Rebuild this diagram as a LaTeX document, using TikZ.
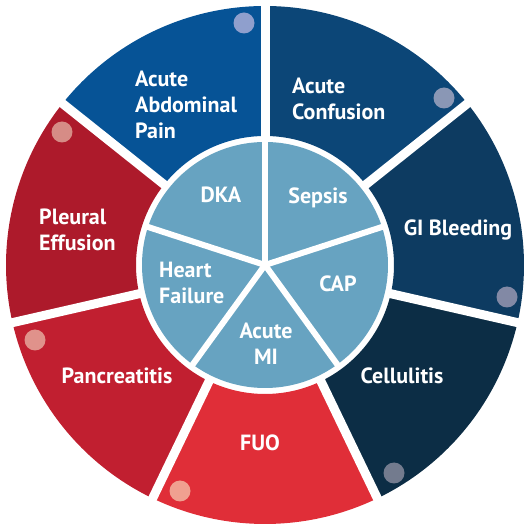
\documentclass[tikz,border=0pt]{standalone}
\usepackage{fontspec}
\setmainfont{PT Sans}
\definecolor{cAAP}{HTML}{065396}
\definecolor{cAC}{HTML}{0C4677}
\definecolor{cGI}{HTML}{0D3B61}
\definecolor{cCell}{HTML}{0C2D45}
\definecolor{cFUO}{HTML}{E02E38}
\definecolor{cPanc}{HTML}{C11F30}
\definecolor{cPleu}{HTML}{AD1A2B}
\definecolor{cPie}{HTML}{67A3C1}
\definecolor{dAAP}{HTML}{8F9FCD}
\definecolor{dAC}{HTML}{8A97B5}
\definecolor{dGI}{HTML}{8289A5}
\definecolor{dCell}{HTML}{737B8E}
\definecolor{dFUO}{HTML}{F0A090}
\definecolor{dPanc}{HTML}{E0928B}
\definecolor{dPleu}{HTML}{D68C86}
\newcommand\outerseg[3]{\fill[#3] ([shift={(#1:259pt)}]C) arc[start angle=#1, end angle=#2, radius=259pt] -- ([shift={(#2:129pt)}]C) arc[start angle=#2, end angle=#1, radius=129pt] -- cycle;}
\newcommand\leftlines[1]{\vtop{\baselineskip=26pt\halign{##\hfil\cr#1\crcr}}}
\newcommand\midlines[1]{\vtop{\baselineskip=26pt\halign{\hfil##\hfil\cr#1\crcr}}}
\begin{document}
\begin{tikzpicture}[x=1pt,y=1pt,
  lbl/.style={inner sep=0pt, text=white, font=\fontsize{22}{26}\selectfont\bfseries},
  dot/.style={circle, inner sep=0pt, minimum size=21pt},
  gapline/.style={white, line width=9pt},
  spoke/.style={white, line width=6pt}]
\useasboundingbox (0,0) rectangle (531,531);
\coordinate (C) at (265,266);
% outer ring
\outerseg{90}{141.429}{cAAP}
\outerseg{38.571}{90}{cAC}
\outerseg{-12.857}{38.571}{cGI}
\outerseg{-64.286}{-12.857}{cCell}
\outerseg{-115.714}{-64.286}{cFUO}
\outerseg{-167.143}{-115.714}{cPanc}
\outerseg{141.429}{192.857}{cPleu}
\foreach \a in {90,38.571,-12.857,-64.286,-115.714,-167.143,141.429}
  \draw[gapline] (C) -- ++(\a:275pt);
% inner pie
\fill[cPie] (C) circle[radius=123pt];
\foreach \a in {90,18,-54,-126,162}
  \draw[spoke] (C) -- ++(\a:126pt);
% dots
\node[dot, fill=dAAP] (dotaap) at (244,508) {};
\node[dot, fill=dAC] (dotac) at (444,433) {};
\node[dot, fill=dGI] (dotgi) at (507,234) {};
\node[dot, fill=dCell] (dotcell) at (394,58) {};
\node[dot, fill=dFUO] (dotfuo) at (180,40) {};
\node[dot, fill=dPanc] (dotpanc) at (35,191) {};
\node[dot, fill=dPleu] (dotpleu) at (62,399) {};
% outer labels
\node[lbl, anchor=base west] (aap) at (135,444) {\leftlines{Acute\cr Abdominal\cr Pain}};
\node[lbl, anchor=base west] (ac) at (292,437) {\leftlines{Acute\cr Confusion}};
\node[lbl, anchor=base] (gi) at (458,295) {GI Bleeding};
\node[lbl, anchor=base] (cell) at (402,147) {Cellulitis};
\node[lbl, anchor=base] (fuo) at (260,80) {FUO};
\node[lbl, anchor=base] (panc) at (117,147) {Pancreatitis};
\node[lbl, anchor=base west] (pleu) at (39,306) {\leftlines{Pleural\cr Effusion}};
% inner labels
\node[lbl, anchor=base] (dka) at (221,328) {DKA};
\node[lbl, anchor=base] (sepsis) at (318,327) {Sepsis};
\node[lbl, anchor=base] (cap) at (338,239) {CAP};
\node[lbl, anchor=base west] (hf) at (159,253) {\leftlines{Heart\cr Failure}};
\node[lbl, anchor=base] (ami) at (266,192) {\midlines{Acute\cr MI}};
\end{tikzpicture}
\end{document}
